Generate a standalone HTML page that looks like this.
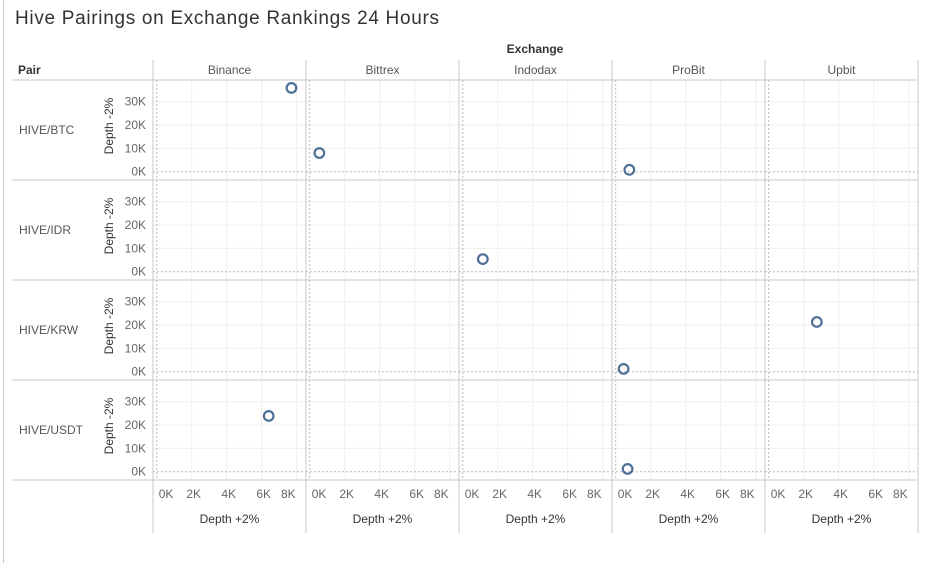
<!DOCTYPE html>
<html><head><meta charset="utf-8"><style>
html,body{margin:0;padding:0;background:#fff;}
svg{display:block;font-family:"Liberation Sans",sans-serif;}
</style></head><body>
<svg id="chart" width="925" height="563" viewBox="0 0 925 563">
<line x1="3.5" y1="0" x2="3.5" y2="563" stroke="#c8c8c8"/>
<text x="15" y="24" font-size="19" fill="#333" textLength="424">Hive Pairings on Exchange Rankings 24 Hours</text>
<text x="535" y="53" font-size="12" font-weight="bold" fill="#333" text-anchor="middle">Exchange</text>
<text x="18" y="74" font-size="12" font-weight="bold" fill="#333">Pair</text>
<g id="g"></g>
</svg>
<script>
const exchanges = ["Binance","Bittrex","Indodax","ProBit","Upbit"];
const pairs = ["HIVE/BTC","HIVE/IDR","HIVE/KRW","HIVE/USDT"];
const xTicks = [0,2,4,6,8];
const yTicks = [0,10,20,30];
const ptExchange = ["Binance","Bittrex","ProBit","Indodax","Upbit","ProBit","Binance","ProBit"];
const ptPair = ["HIVE/BTC","HIVE/BTC","HIVE/BTC","HIVE/IDR","HIVE/KRW","HIVE/KRW","HIVE/USDT","HIVE/USDT"];
const depthPlus = [7.7,0.55,0.78,1.15,2.75,0.45,6.4,0.68];
const depthMinus = [35.9,8.0,0.8,5.4,21.3,1.2,23.9,1.2];

const NS="http://www.w3.org/2000/svg";
const g=document.getElementById('g');
function el(t,a,txt){const e=document.createElementNS(NS,t);for(const k in a)e.setAttribute(k,a[k]);if(txt!==undefined)e.textContent=txt;g.appendChild(e);return e;}
const colL=153,colW=153,rowT=80,rowH=100;
const xs=(c,v)=>colL+c*colW+3.7+v*17.5;
const ys=(r,v)=>rowT+r*rowH+91.7-v*2.333;

// grid lines
exchanges.forEach((ex,c)=>{
  pairs.forEach((p,r)=>{
    xTicks.forEach(t=>{if(t>0){const l=el('line',{x1:xs(c,t),x2:xs(c,t),y1:rowT+r*rowH,y2:rowT+(r+1)*rowH,stroke:'#efefef'});
      
      }});
    yTicks.forEach(t=>{if(t>0){const l=el('line',{x1:colL+c*colW,x2:colL+(c+1)*colW,y1:ys(r,t),y2:ys(r,t),stroke:'#efefef'});
      
      }});
    const zx=el('line',{x1:xs(c,0),x2:xs(c,0),y1:rowT+r*rowH,y2:rowT+(r+1)*rowH,stroke:'#bbb','stroke-dasharray':'2,2'});
    
    
    const zy=el('line',{x1:colL+c*colW,x2:colL+(c+1)*colW,y1:ys(r,0),y2:ys(r,0),stroke:'#bbb','stroke-dasharray':'2,2'});
    
    
  });
});
// horizontal separators
for(let i=0;i<=pairs.length;i++){const y=rowT+i*rowH;const l=el('line',{x1:12,x2:917,y1:y,y2:y,stroke:'#c8c8c8'});
  
  }
// column separators
for(let i=0;i<=exchanges.length;i++){const x=colL+i*colW;const l=el('line',{x1:x,x2:x,y1:60,y2:533,stroke:'#c8c8c8'});
  
  }
// column headers + x axes
exchanges.forEach((ex,c)=>{
  const h=el('text',{x:colL+c*colW+colW/2,y:74,'font-size':12,fill:'#555','text-anchor':'middle'},ex);
  
  
  xTicks.forEach(t=>{const tx=el('text',{x:t===8?xs(c,t)-1:xs(c,t)+2,y:498,'font-size':12,fill:'#666','text-anchor':t===0?'start':(t===8?'end':'middle')},t+'K');
    
    });
  const at=el('text',{x:colL+c*colW+colW/2,y:523,'font-size':12,fill:'#333','text-anchor':'middle'},'Depth +2%');
  
  
});
// row headers + y axes
pairs.forEach((p,r)=>{
  const h=el('text',{x:19,y:rowT+r*rowH+54,'font-size':12,fill:'#555'},p);
  
  
  yTicks.forEach(t=>{const tx=el('text',{x:146,y:ys(r,t)+4,'font-size':12,fill:'#666','text-anchor':'end'},t+'K');
    
    });
  const cy=rowT+r*rowH+50;
  const at=el('text',{x:0,y:0,'font-size':12,fill:'#333','text-anchor':'middle',transform:'translate(113,'+(cy-4)+') rotate(-90)'},'Depth -2%');
  
  
});
// points
depthPlus.forEach((v,i)=>{
  const c=exchanges.indexOf(ptExchange[i]),r=pairs.indexOf(ptPair[i]);
  const pt=el('circle',{cx:xs(c,v),cy:ys(r,depthMinus[i]),r:4.8,fill:'none',stroke:'#4e6f96','stroke-width':2.2});
  
  
});
</script>
</body></html>
